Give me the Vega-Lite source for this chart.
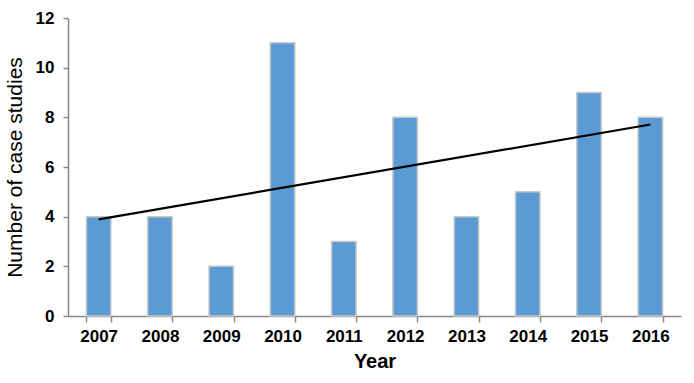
{
  "$schema": "https://vega.github.io/schema/vega-lite/v6.json",
  "autosize": "none",
  "width": 613,
  "height": 298,
  "padding": {"left": 68, "top": 18, "right": 13, "bottom": 67},
  "background": "white",
  "config": {"view": {"stroke": null}, "font": "Liberation Sans"},
  "data": {"values": [
    {"year": "2007", "count": 4, "trend": 3.89},
    {"year": "2008", "count": 4},
    {"year": "2009", "count": 2},
    {"year": "2010", "count": 11},
    {"year": "2011", "count": 3},
    {"year": "2012", "count": 8},
    {"year": "2013", "count": 4},
    {"year": "2014", "count": 5},
    {"year": "2015", "count": 9},
    {"year": "2016", "count": 8, "trend": 7.71}
  ]},
  "encoding": {
    "x": {
      "field": "year", "type": "ordinal", "title": "Year",
      "scale": {"paddingInner": 0.6, "paddingOuter": 0.3},
      "axis": {
        "labelAngle": 0, "labelFont": "Liberation Sans", "labelFontSize": 17, "labelFontWeight": "bold",
        "labelColor": "black", "labelPadding": 6, "tickBand": "extent", "tickSize": 6,
        "tickColor": "#888", "domainColor": "#888", "domainWidth": 1.5, "tickWidth": 1.5,
        "titleFont": "Liberation Sans", "titleFontSize": 20, "titleFontWeight": "bold",
        "titleColor": "black", "titlePadding": 7
      }
    }
  },
  "layer": [
    {
      "mark": {"type": "bar", "color": "#5b9bd5", "stroke": "#c8c8c8", "strokeWidth": 1.5},
      "encoding": {
        "y": {
          "field": "count", "type": "quantitative", "title": "Number of case studies",
          "scale": {"domain": [0, 12]},
          "axis": {
            "values": [0, 2, 4, 6, 8, 10, 12], "grid": false,
            "labelFont": "Liberation Sans", "labelFontSize": 17, "labelFontWeight": "bold",
            "labelColor": "black", "labelPadding": 9, "tickSize": 5,
            "tickColor": "#888", "domainColor": "#888", "domainWidth": 1.5, "tickWidth": 1.5,
            "titleFont": "Liberation Sans", "titleFontSize": 21, "titleFontWeight": "normal",
            "titleColor": "black", "titlePadding": 10
          }
        }
      }
    },
    {
      "transform": [{"filter": "datum.trend != null"}],
      "mark": {"type": "line", "color": "black", "strokeWidth": 2.2},
      "encoding": {
        "y": {"field": "trend", "type": "quantitative"}
      }
    }
  ]
}
